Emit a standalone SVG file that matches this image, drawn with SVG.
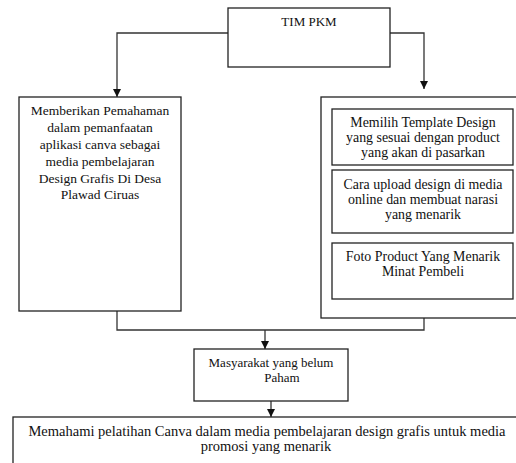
<svg xmlns="http://www.w3.org/2000/svg" width="516" height="463" viewBox="0 0 516 463">
<style>
.b{fill:#fff;stroke:#222;stroke-width:1.3}
.c{fill:none;stroke:#333;stroke-width:1.3}
text{font-family:"Liberation Serif","Times New Roman",serif;fill:#111;text-anchor:middle}
.l{font-size:13.5px}
.s{font-size:13px}
.m{font-size:13.9px}
.w{font-size:14.5px}
</style>
<rect width="516" height="463" fill="#fff"/>
<g id="connectors">
<path class="c" d="M228,33 H117 V97"/>
<path d="M113,89 L121,89 L117,97 Z" fill="#111"/>
<path class="c" d="M390,33 H424 V89"/>
<path d="M420,81 L428,81 L424,89 Z" fill="#111"/>
<path class="c" d="M117,311 V330 H424 V318"/>
<path class="c" d="M265,330 V349"/>
<path d="M261,341 L269,341 L265,349 Z" fill="#111"/>
<path class="c" d="M271,401 V417"/>
<path d="M267,409 L275,409 L271,417 Z" fill="#111"/>
</g>
<g id="tim">
<rect class="b" x="228" y="8" width="162" height="59"/>
<text class="s" x="309" y="26">TIM PKM</text>
</g>
<g id="left">
<rect class="b" x="19" y="97" width="162" height="214"/>
<text class="l" x="100" y="115">Memberikan Pemahaman</text>
<text class="l" x="100" y="132">dalam pemanfaatan</text>
<text class="l" x="100" y="149">aplikasi canva sebagai</text>
<text class="l" x="100" y="166">media pembelajaran</text>
<text class="l" x="100" y="183">Design Grafis Di Desa</text>
<text class="l" x="100" y="199">Plawad Ciruas</text>
</g>
<g id="right">
<rect class="b" x="321" y="97" width="210" height="221"/>
</g>
<g id="r1">
<rect class="b" x="332" y="109" width="181" height="56"/>
<text class="m" x="423" y="127">Memilih Template Design</text>
<text class="m" x="423" y="142">yang sesuai dengan product</text>
<text class="m" x="423" y="157">yang akan di pasarkan</text>
</g>
<g id="r2">
<rect class="b" x="332" y="170" width="181" height="63"/>
<text class="m" x="423" y="189">Cara upload design di media</text>
<text class="m" x="423" y="204">online dan membuat narasi</text>
<text class="m" x="423" y="219">yang menarik</text>
</g>
<g id="r3">
<rect class="b" x="332" y="243" width="181" height="56"/>
<text class="m" x="423" y="261">Foto Product Yang Menarik</text>
<text class="m" x="423" y="276">Minat Pembeli</text>
</g>
<g id="masy">
<rect class="b" x="194" y="349" width="154" height="52"/>
<text class="s" x="271" y="367">Masyarakat yang belum</text>
<text class="s" x="282" y="382">Paham</text>
</g>
<g id="bottom">
<rect class="b" x="13" y="417" width="520" height="60"/>
<text class="w" x="267" y="436">Memahami pelatihan Canva dalam media pembelajaran design grafis untuk media</text>
<text class="w" x="266" y="451">promosi yang menarik</text>
</g>
</svg>
